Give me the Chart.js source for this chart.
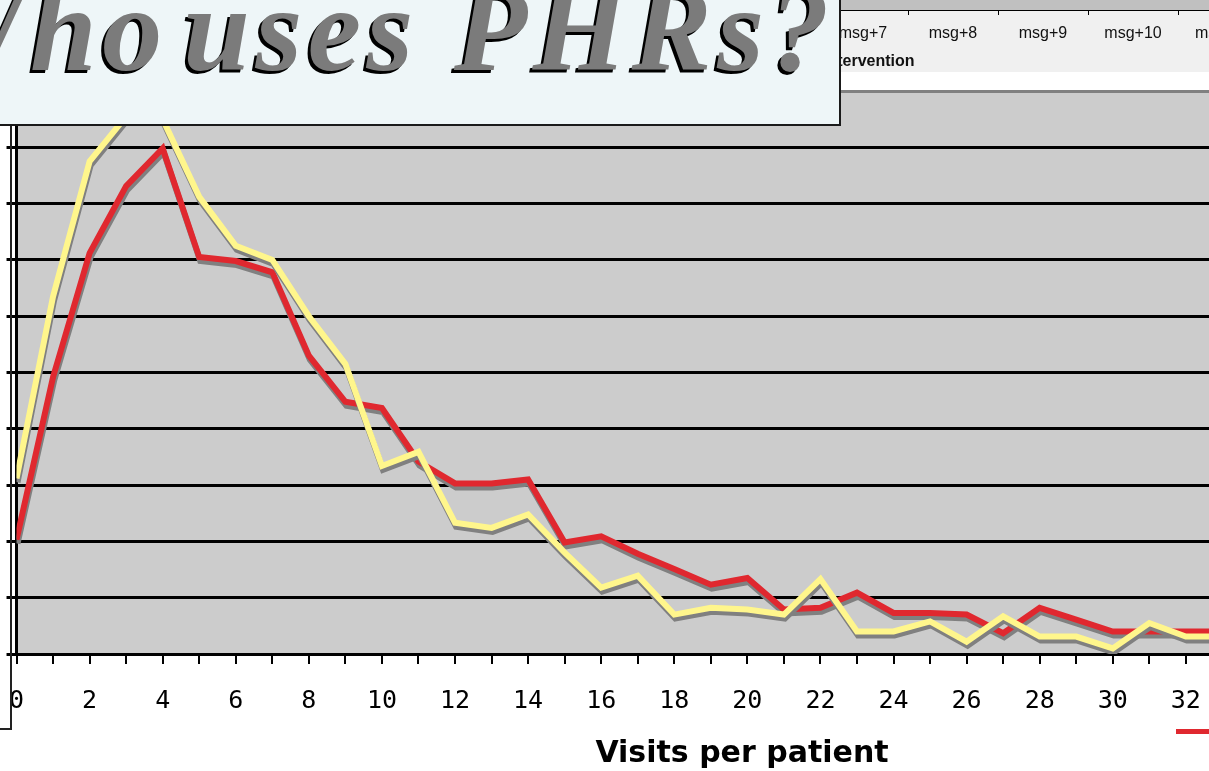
<!DOCTYPE html>
<html>
<head>
<meta charset="utf-8">
<script src="https://cdn.jsdelivr.net/npm/chart.js@4/dist/chart.umd.min.js"></script>
<style>
  html, body { margin: 0; padding: 0; width: 1209px; height: 771px; overflow: hidden; background: #fff; }
  #wrap { position: absolute; left: -13px; top: 0; width: 1250px; height: 771px; }
  #hdr { position: absolute; left: 830px; top: 0; width: 400px; height: 93px; z-index: 2; background: #F0F0F0; }
  #hdr .band { position: absolute; left: 0; top: 0; width: 100%; height: 10px; background: #C0C0C0; border-bottom: 1px solid #000; }
  #hdr .tick { position: absolute; top: 11px; width: 1px; height: 4px; background: #000; }
  #hdr .lbl { position: absolute; top: 24px; width: 90px; text-align: center; font: 16px "Liberation Sans", Arial, sans-serif; color: #111; }
  #hdr .legTitle { position: absolute; left: -7px; top: 52px; font: bold 16px "Liberation Sans", Arial, sans-serif; color: #111; }
  #hdr .white { position: absolute; left: 0; top: 72px; width: 100%; height: 18px; background: #fff; }
  #hdr .rule { position: absolute; left: 0; top: 90px; width: 100%; height: 3px; background: #808080; }
  #titleBox { position: absolute; left: -30px; top: -4px; width: 871px; height: 130px; box-sizing: border-box;
              background: #EEF6F8; border-right: 2px solid #1a1a1a; border-bottom: 2px solid #1a1a1a; z-index: 3; overflow: hidden; }
  #titleText { position: absolute; right: 4px; top: -35px; white-space: nowrap;
               font: italic bold 120px "Liberation Serif", "Times New Roman", serif; letter-spacing: 5.5px;
               color: #7b7b7b; text-shadow: -3px 3px 0 #000; }
  #titleText .w1 { margin-right: -20px; }
  #frame { position: absolute; left: 10px; top: 126px; width: 0; height: 603px; border-left: 2px solid #222; z-index: 1; }
  #frameFoot { position: absolute; left: 0; top: 728px; width: 12px; height: 0; border-top: 2px solid #222; z-index: 1; }
  #xTitle { position: absolute; left: 542px; top: 734px; width: 400px; text-align: center; line-height: 36px;
            font: bold 30px "DejaVu Sans", sans-serif; color: #000; z-index: 1; }
  #legSwatch { position: absolute; left: 1176px; top: 729px; width: 40px; height: 5px; background: #E0282F; z-index: 1; }
</style>
</head>
<body>
<div id="wrap"><canvas id="chart"></canvas></div>
<div id="hdr">
  <div class="band"></div>
  <div class="white"></div>
  <div class="rule"></div>
  <div class="legTitle">Intervention</div>
</div>
<div id="titleBox"><span id="titleText"><span class="w1">Who</span> uses PHRs?</span></div>
<div id="frame"></div>
<div id="frameFoot"></div>
<div id="xTitle">Visits per patient</div>
<div id="legSwatch"></div>

<script>
// x = visits per patient, y (one unit per line)
const visits = [0, 1, 2, 3, 4, 5, 6, 7, 8, 9, 10, 11, 12, 13, 14, 15, 16,
                17, 18, 19, 20, 21, 22, 23, 24, 25, 26, 27, 28, 29, 30, 31, 32, 33];

const redSeries = [2.03, 4.92, 7.12, 8.31, 8.98, 7.05, 6.98, 6.78, 5.30, 4.48, 4.37, 3.42,
                   3.03, 3.03, 3.10, 1.98, 2.09, 1.78, 1.51, 1.23, 1.35, 0.79, 0.82, 1.09,
                   0.73, 0.73, 0.70, 0.37, 0.82, 0.61, 0.40, 0.40, 0.40, 0.40];

const yellowSeries = [3.12, 6.35, 8.75, 9.55, 9.50, 8.12, 7.25, 7.00, 6.00, 5.15, 3.34, 3.59,
                      2.33, 2.24, 2.48, 1.80, 1.18, 1.39, 0.70, 0.82, 0.79, 0.70, 1.33, 0.40,
                      0.40, 0.58, 0.22, 0.67, 0.31, 0.31, 0.10, 0.55, 0.31, 0.31];

const xTickLabels = [0, 2, 4, 6, 8, 10, 12, 14, 16, 18, 20, 22, 24, 26, 28, 30, 32];
const topLabels = ['msg+7', 'msg+8', 'msg+9', 'msg+10', 'msg+11'];

// ─── header strip (partly hidden behind the title box) ───────────────────────
const hdr = document.getElementById('hdr');
topLabels.forEach((t, i) => {
  const d = document.createElement('div');
  d.className = 'lbl';
  d.style.left = (863 - 830 - 45 + i * 90) + 'px';
  d.textContent = t;
  hdr.appendChild(d);
  const k = document.createElement('div');
  k.className = 'tick';
  k.style.left = (908 - 830 + i * 90) + 'px';
  hdr.appendChild(k);
});

// ─── plugins ────────────────────────────────────────────────────────────────
const plotBg = {
  id: 'plotBg',
  beforeDraw(chart) {
    const { ctx, chartArea: a } = chart;
    ctx.save();
    ctx.fillStyle = '#CCCCCC';
    ctx.fillRect(a.left, a.top, a.right - a.left, a.bottom - a.top);
    ctx.restore();
  }
};

const lineShadow = {
  id: 'lineShadow',
  beforeDatasetDraw(chart) {
    const c = chart.ctx;
    c.save();
    c.shadowColor = '#808080';
    c.shadowOffsetX = 1;
    c.shadowOffsetY = 4;
    c.shadowBlur = 0;
  },
  afterDatasetDraw(chart) { chart.ctx.restore(); }
};

const toPoints = arr => visits.map((v, i) => ({ x: v, y: arr[i] }));
const lastLabel = xTickLabels[xTickLabels.length - 1];

new Chart(document.getElementById('chart'), {
  type: 'line',
  data: {
    datasets: [
      { label: 'Red', data: toPoints(redSeries), borderColor: '#E0282F', borderWidth: 6,
        pointRadius: 0, tension: 0, order: 1 },
      { label: 'Yellow', data: toPoints(yellowSeries), borderColor: '#FFF68C', borderWidth: 6,
        pointRadius: 0, tension: 0, order: 0 },
    ]
  },
  options: {
    responsive: true, maintainAspectRatio: false, animation: false,
    layout: { padding: { left: 7, right: 0, top: 91, bottom: 33 } },
    plugins: { legend: { display: false }, tooltip: { enabled: false } },
    scales: {
      x: {
        type: 'linear', min: 0, max: 33.4,
        afterBuildTicks: axis => {
          axis.ticks = visits.filter(v => v <= lastLabel).map(v => ({ value: v }));
        },
        ticks: {
          autoSkip: false, maxRotation: 0, padding: 22, color: '#000',
          font: { family: 'DejaVu Sans Mono', size: 25 },
          callback: v => xTickLabels.includes(v) ? String(v) : ''
        },
        grid: { drawOnChartArea: false, drawTicks: true, tickLength: 10, color: '#000', lineWidth: 2 },
        border: { display: true, color: '#000', width: 3 }
      },
      y: {
        min: 0, max: 10,
        ticks: { display: false, stepSize: 1 },
        grid: { color: '#000', lineWidth: 3, drawTicks: true, tickLength: 10 },
        border: { display: true, color: '#000', width: 3 }
      }
    }
  },
  plugins: [plotBg, lineShadow]
});
</script>
</body>
</html>
